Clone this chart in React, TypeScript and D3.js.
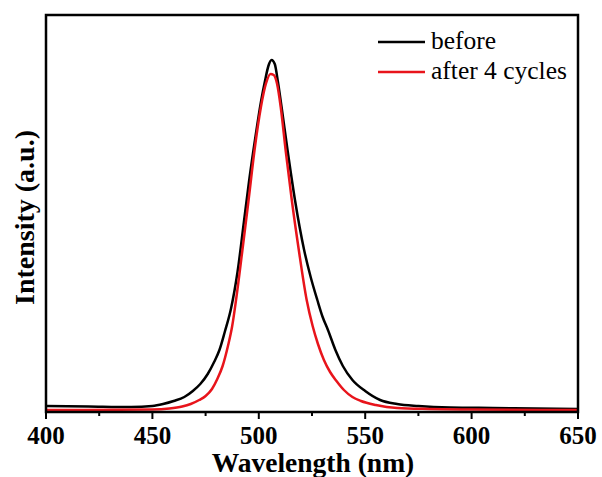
import React from "react";
import * as d3 from "d3";

const wavelengthsBefore = [400, 420, 440, 450, 455, 460, 465, 469, 472.5, 476, 479, 481.5, 484, 487, 490, 493, 495.5, 498.2, 501, 503, 504.5, 506, 507.5, 509, 510.7, 513.5, 517, 521.3, 524.5, 527.5, 530, 532.5, 536, 539.5, 544, 550, 557, 565, 575, 590, 610, 630, 650];
const intensityBefore = [6, 5.5, 5, 6, 8, 11, 15, 21, 28, 38, 50, 62, 80, 104, 140, 190, 232, 272, 310, 332, 346, 352, 348, 330, 305, 262, 212, 162, 134, 112, 95, 82, 62, 46, 32, 21, 12, 8, 6, 4.5, 4, 3.5, 3];

const wavelengthsAfter = [400, 450, 458, 464, 468, 472, 475, 478, 480.5, 483, 485.5, 487.5, 489.3, 492.3, 495.2, 498, 501, 503.3, 505.5, 507, 508.6, 510.3, 512.6, 515.5, 518.8, 522.5, 525.3, 527.8, 530.6, 533.5, 536.5, 540, 544, 548, 555, 565, 580, 600, 650];
const intensityAfter = [2, 2.5, 3.5, 5.5, 8, 12, 16, 23, 33, 46, 66, 86, 112, 162, 212, 262, 305, 328, 338, 337, 328, 305, 262, 212, 162, 112, 86, 68, 52, 40, 31, 22, 15, 11, 7, 4, 3, 2.5, 2];

const xMajorTicks = [400, 450, 500, 550, 600, 650];
const xMinorTicks = [425, 475, 525, 575, 625];
const legendLabels = ["before", "after 4 cycles"];
const seriesColors = ["#000000", "#e8141b"];

export default function App() {
  const W = 602, H = 477;
  const left = 46, right = 578, top = 15, bottom = 412;
  const x = d3.scaleLinear().domain([400, 650]).range([left, right]);
  const y = d3.scaleLinear().domain([0, 397]).range([bottom, top]);
  const line = d3.line<[number, number]>().x(d => x(d[0])).y(d => y(d[1])).curve(d3.curveMonotoneX);
  const before = wavelengthsBefore.map((w, i) => [w, intensityBefore[i]] as [number, number]);
  const after = wavelengthsAfter.map((w, i) => [w, intensityAfter[i]] as [number, number]);
  const font = "'Liberation Serif', 'Times New Roman', serif";
  return (
    <svg width={W} height={H} style={{ position: "absolute", left: 0, top: 0, background: "#fff" }}>
      <defs>
        <clipPath id="plot"><rect x={left} y={top} width={right - left} height={bottom - top} /></clipPath>
      </defs>
      <g clipPath="url(#plot)">
        <path d={line(before) || ""} fill="none" stroke={seriesColors[0]} strokeWidth={2.5} />
        <path d={line(after) || ""} fill="none" stroke={seriesColors[1]} strokeWidth={2.5} />
      </g>
      <rect x={left} y={top} width={right - left} height={bottom - top} fill="none" stroke="#000" strokeWidth={2.5} />
      {xMajorTicks.map(t => (
        <g key={t}>
          <line x1={x(t)} x2={x(t)} y1={bottom} y2={bottom + 7} stroke="#000" strokeWidth={2} />
          <text x={x(t)} y={444} textAnchor="middle" fontFamily={font} fontWeight="bold" fontSize={25}>{t}</text>
        </g>
      ))}
      {xMinorTicks.map(t => (
        <line key={t} x1={x(t)} x2={x(t)} y1={bottom} y2={bottom + 4} stroke="#000" strokeWidth={2} />
      ))}
      <text x={(left + right) / 2 + 1} y={472} textAnchor="middle" fontFamily={font} fontWeight="bold" fontSize={27.5}>Wavelength (nm)</text>
      <text transform={`translate(34, ${(top + bottom) / 2 + 4}) rotate(-90)`} textAnchor="middle" fontFamily={font} fontWeight="bold" fontSize={28}>Intensity (a.u.)</text>
      {legendLabels.map((l, i) => (
        <g key={l}>
          <line x1={378} x2={425} y1={42 + i * 30} y2={42 + i * 30} stroke={seriesColors[i]} strokeWidth={2.5} />
          <text x={431} y={49 + i * 30} fontFamily={font} fontSize={25.5}>{l}</text>
        </g>
      ))}
    </svg>
  );
}
